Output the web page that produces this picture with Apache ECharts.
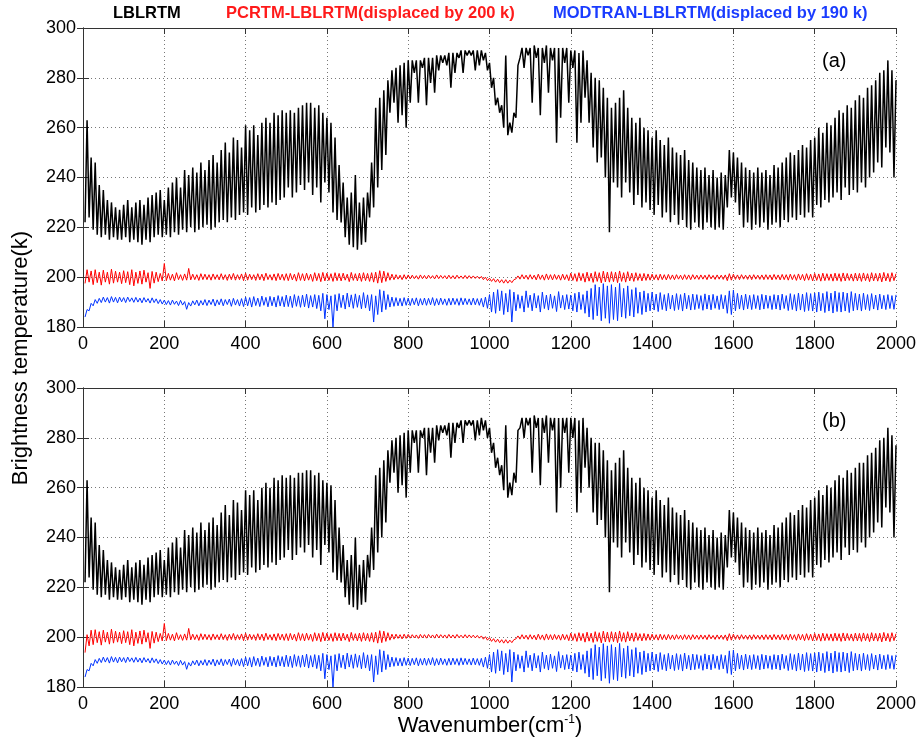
<!DOCTYPE html>
<html><head><meta charset="utf-8">
<script src="https://cdn.jsdelivr.net/npm/echarts@6/dist/echarts.min.js"></script>
<style>html,body{margin:0;padding:0;background:#fff}#c{width:921px;height:750px}</style>
</head><body><div id="c"></div>
<script>
// wavenumber sampling of the arrays below: first value at 10 cm-1, one value every 10 cm-1
const wnStart = 10, wnStep = 10;
const xTicks = [0,200,400,600,800,1000,1200,1400,1600,1800,2000];
const yTicks = [180,200,220,240,260,280,300];

// LBLRTM brightness temperature, panel (a): upper envelope / spike bottoms
const lblHiA = [263,248,246,237,235,231,230,228,227,229,
231,228,230,231,229,232,233,234,235,231,
236,238,240,236,243,241,244,242,246,243,
247,249,246,251,254,250,256,255,252,261,
259,261,257,262,264,262,266,265,267,266,
267,266,268,269,270,270,268,269,266,264,
262,256,245,238,232,234,241,230,232,234,
246,268,272,275,279,283,284,285,286,287,
287,287,287,288,288,288,289,289,289,290,
290,290,291,291,291,291,291,291,290,286,
280,272,269,289,262,266,285,292,292,292,
293,292,292,293,292,292,292,292,292,291,
291,290,291,287,282,280,279,276,272,268,
270,272,275,268,264,262,264,260,259,256,
259,255,253,256,252,250,249,251,247,246,
244,243,244,241,243,240,242,241,251,250,
248,246,244,243,242,244,242,243,241,245,
244,246,248,250,249,251,253,252,255,256,
260,258,262,261,264,267,266,269,268,271,
273,272,276,277,279,282,283,287,283,279];
const lblLoA = [222,224,219,217,216,217,215,216,215,215,
216,214,215,214,213,215,214,216,217,216,
217,216,218,217,219,218,220,218,219,220,
221,219,220,222,223,222,224,223,225,226,
225,228,226,227,229,228,230,229,231,232,
236,232,234,237,235,238,233,236,230,238,
234,226,223,222,216,213,212,211,213,214,
224,228,236,243,249,266,270,262,265,260,
270,282,270,284,269,278,274,283,286,285,
276,282,288,282,289,289,283,285,287,283,
276,269,266,260,257,258,264,288,284,289,
270,288,265,286,274,287,254,264,286,270,
284,254,262,272,262,252,246,248,240,218,
238,236,232,238,234,229,233,228,230,227,
225,229,224,226,222,225,221,223,220,219,
222,220,219,222,220,219,220,219,228,232,
230,225,220,222,219,221,220,222,219,221,
222,220,223,222,224,223,225,224,226,224,
229,228,231,230,232,234,231,236,233,235,
234,238,236,240,242,246,244,252,250,240];

// LBLRTM brightness temperature, panel (b)
const lblHiB = [263,248,246,237,235,231,230,228,227,229,
231,228,230,231,229,232,233,234,235,231,
236,238,240,236,243,241,244,242,246,243,
246,248,245,250,253,249,255,254,251,259,
257,259,255,260,262,260,264,263,265,264,
265,264,266,266,267,267,265,266,263,262,
261,255,244,237,231,233,240,229,231,233,
244,265,268,271,275,279,280,281,282,283,
283,283,283,284,284,284,285,285,285,286,
286,286,287,287,287,287,287,288,287,284,
278,272,269,285,262,266,283,288,288,288,
289,288,288,289,288,288,288,288,288,288,
288,287,288,284,280,278,278,275,271,267,
270,272,275,268,264,262,264,260,259,256,
259,255,253,256,252,250,249,251,247,246,
244,243,244,241,243,240,242,241,251,250,
248,246,244,243,242,244,242,243,241,245,
244,246,248,250,249,251,253,252,255,256,
259,257,261,260,263,265,264,267,266,268,
270,270,273,274,276,279,280,284,281,277];
const lblLoB = [222,224,219,217,216,217,215,216,215,215,
216,214,215,214,213,215,214,216,217,216,
217,216,218,217,219,218,220,218,219,220,
221,219,220,222,223,222,224,223,225,226,
225,228,226,227,229,228,230,229,231,232,
235,231,233,236,234,237,232,235,229,237,
234,226,223,222,216,213,212,211,213,214,
224,227,234,240,246,262,266,258,261,256,
266,278,266,280,265,274,270,279,282,281,
272,278,284,278,285,285,279,281,283,280,
274,268,265,259,256,257,262,284,280,285,
266,284,261,282,270,283,250,260,282,266,
280,250,258,268,260,250,245,247,240,218,
238,236,232,238,234,229,233,228,230,227,
225,229,224,226,222,225,221,223,220,219,
222,220,219,222,220,219,220,219,228,232,
230,225,220,222,219,221,220,222,219,221,
222,220,223,222,224,223,225,224,226,224,
229,228,231,230,232,234,231,236,233,235,
234,238,236,240,242,246,244,252,250,240];

// PCRTM-LBLRTM displaced by 200 K, panel (a)
const pcHiA = [203,202.5,203,202,202.8,202,203.2,202.4,202,202.6,
202.2,203,202,202.5,202.8,201.8,202.3,202,201.5,205.5,
201.5,201.2,201.8,201,201.3,203.5,201.2,201,201.4,201.2,
201,201.3,201,201.4,201,201.2,201.5,201,201.3,201.6,
201.2,201,201.4,201.2,201.6,201,201.3,201.5,201.2,201.4,
201.5,201.2,201.8,201.4,201.6,201.2,201.8,201.5,201.9,201.6,
201.4,201.8,201.5,201.6,201.2,201.9,201.4,201.6,201.8,201.5,
201.8,202,202.6,202.4,201.8,201.2,201,200.8,201,200.9,
200.8,200.6,200.9,200.7,200.8,200.6,200.9,200.7,200.6,200.8,
200.6,200.8,200.5,200.7,200.6,200.5,200.4,200.3,200,199.6,
199.4,199.2,199,199,198.8,199,200.5,201,200.8,201,
200.8,201.2,200.9,201.3,201,201.1,200.9,201.2,201,201.6,
201.4,201.8,201.5,202,201.6,202.2,201.8,202.4,202,202.2,
202,202.5,201.8,202.2,201.6,201.8,201.4,201.5,201.3,201.2,
201,201.2,201,201.1,200.9,201,200.8,201,200.9,201,
200.8,200.9,200.8,201,200.7,200.9,200.8,200.9,201.4,201.2,
200.9,201,200.8,200.9,201,200.8,200.9,201,200.9,201.1,
200.9,201.1,201,201.2,201,201.3,201.1,201.4,201.2,201.5,
201.3,201.6,201.4,201.3,201.6,201.4,201.7,201.5,201.3,201.6,
201.5,201.7,201.4,201.8,201.5,201.6,201.9,201.5,201.8,201.4];
const pcLoA = [197.5,198,197,197.8,196.8,198,197.2,197.6,198,197.4,
197.8,197,196.5,197.5,197.2,198,195.5,197.6,198.2,198.5,
198.6,198.8,198.5,199,198.7,198.8,198.9,199,198.7,199,
199,198.8,199.1,198.9,199,198.7,199,198.8,199,198.6,
198.8,199,198.7,198.9,198.6,199,198.8,198.6,198.9,198.7,
198.6,198.9,198.4,198.7,198.5,198.8,198.3,198.6,198.2,198.5,
198.7,198.3,198.6,198.5,198.8,198.2,198.7,198.5,198.3,198.6,
198.3,198,197.6,197.8,198.3,198.8,199,199.2,199,199.2,
199.3,199.4,199.2,199.4,199.3,199.5,199.3,199.4,199.5,199.3,
199.4,199.3,199.5,199.4,199.4,199.5,199.5,199.4,199,198.6,
198.3,198,197.8,197.6,197.6,197.8,199.3,199.2,199.3,199.1,
199.2,198.9,199.1,198.8,199,198.9,199.1,198.8,199,198.6,
198.7,198.3,198.6,198,198.4,197.9,198.3,197.7,198.1,198,
198.2,197.8,198.3,198,198.5,198.3,198.7,198.5,198.7,198.8,
199,198.8,199,198.9,199.1,199,199.2,199,199.1,199,
199.2,199.1,199.2,199,199.3,199.1,199.2,199.1,198.6,198.8,
199.1,199,199.2,199.1,199,199.2,199.1,199,199.1,198.9,
199.1,198.9,199,198.8,199,198.7,198.9,198.6,198.8,198.5,
198.7,198.4,198.6,198.7,198.4,198.6,198.3,198.5,198.7,198.4,
198.5,198.3,198.6,198.2,198.5,198.4,198.1,198.5,198.2,198.6];

// PCRTM-LBLRTM displaced by 200 K, panel (b)
const pcHiB = [201,202.8,203,202.2,202.8,202,203.2,202.4,202,202.6,
202.2,203,202,202.5,202.8,201.8,202.3,202,201.5,205.5,
201.5,201.2,201.8,201,201.3,203.5,201.2,201,201.4,201.2,
201,201.3,201,201.4,201,201.2,201.5,201,201.3,201.6,
201.2,201,201.4,201.2,201.6,201,201.3,201.5,201.2,201.4,
201.5,201.2,201.8,201.4,201.6,201.2,201.8,201.5,201.9,201.6,
201.4,201.8,201.5,201.6,201.2,201.9,201.4,201.6,201.8,201.5,
201.8,202,202.6,202.4,201.8,201.2,201.2,201,201.2,201.1,
201,200.9,201.1,201,201.1,200.9,201.2,201,200.9,201.1,
200.9,201.1,200.8,201,200.9,200.8,200.7,200.5,200.2,199.8,
199.4,199.2,199,199,198.8,199,200.5,201,200.8,201,
200.8,201.2,200.9,201.3,201,201.1,200.9,201.2,201,201.6,
201.4,201.8,201.5,202,201.6,202.2,201.8,202.4,202,202.2,
202,202.5,201.8,202.2,201.6,201.8,201.4,201.5,201.3,201.2,
201,201.2,201,201.1,200.9,201,200.8,201,200.9,201,
200.8,200.9,200.8,201,200.7,200.9,200.8,200.9,201.4,201.2,
200.9,201,200.8,200.9,201,200.8,200.9,201,200.9,201.1,
200.9,201.1,201,201.2,201,201.3,201.1,201.4,201.2,201.5,
201.3,201.6,201.4,201.3,201.6,201.4,201.7,201.5,201.3,201.6,
201.5,201.7,201.4,201.8,201.5,201.6,201.9,201.5,201.8,201.4];
const pcLoB = [193.8,196.5,197,197.8,196.8,198,197.2,197.6,198,197.4,
197.8,197,196.5,197.5,197.2,198,195.5,197.6,198.2,198.5,
198.6,198.8,198.5,199,198.7,198.8,198.9,199,198.7,199,
199,198.8,199.1,198.9,199,198.7,199,198.8,199,198.6,
198.8,199,198.7,198.9,198.6,199,198.8,198.6,198.9,198.7,
198.6,198.9,198.4,198.7,198.5,198.8,198.3,198.6,198.2,198.5,
198.7,198.3,198.6,198.5,198.8,198.2,198.7,198.5,198.3,198.6,
198.3,198,197.6,197.8,198.3,198.8,199.2,199.5,199.3,199.5,
199.6,199.7,199.5,199.7,199.6,199.8,199.6,199.7,199.8,199.6,
199.7,199.6,199.8,199.7,199.7,199.8,199.7,199.6,199.2,198.8,
198.3,198,197.8,197.6,197.6,197.8,199.3,199.2,199.3,199.1,
199.2,198.9,199.1,198.8,199,198.9,199.1,198.8,199,198.6,
198.7,198.3,198.6,198,198.4,197.9,198.3,197.7,198.1,198,
198.2,197.8,198.3,198,198.5,198.3,198.7,198.5,198.7,198.8,
199,198.8,199,198.9,199.1,199,199.2,199,199.1,199,
199.2,199.1,199.2,199,199.3,199.1,199.2,199.1,198.6,198.8,
199.1,199,199.2,199.1,199,199.2,199.1,199,199.1,198.9,
199.1,198.9,199,198.8,199,198.7,198.9,198.6,198.8,198.5,
198.7,198.4,198.6,198.7,198.4,198.6,198.3,198.5,198.7,198.4,
198.5,198.3,198.6,198.2,198.5,198.4,198.1,198.5,198.2,198.6];

// MODTRAN-LBLRTM displaced by 190 K (both panels)
const moHi = [187,189.5,191,191.5,192,191.8,192.2,191.9,192,191.8,
192,191.7,191.9,191.6,191.8,191.4,191.7,191.3,191,190.8,
190.6,190.8,190.4,190.7,190.2,189.8,190.5,190.8,190.6,191,
190.8,191.2,190.9,191.3,191,191.2,191.5,191,191.4,192,
191.8,192.2,191.6,192.4,191.9,192.3,192,192.6,192.2,192.8,
192.4,193,192.5,192.8,193.2,192.6,193,192.7,193.5,193,
192.5,193,193.4,192.8,193.6,192.9,193.3,192.7,193.8,192.9,
193,192.5,195,194.5,193,192,191.8,191.5,191.8,191.6,
191.5,191.7,191.4,191.6,191.5,191.8,191.4,191.6,191.3,191.5,
191.6,191.4,191.7,191.5,191.3,191.6,191.4,191.5,192,193,
194,195,194.5,193.5,195,194,193,192.5,194.5,192.8,
193.5,192.6,194,192.8,193.2,192.5,194.2,192.7,193,192.8,
193.5,194,193,194.5,195.5,197,196,197.4,196.5,197,
196,197.5,195.5,196.5,195,195.8,194,194.5,193.5,194,
193.2,193.8,193,193.5,192.8,193.4,193,193.6,192.7,193.2,
193,192.6,193.3,192.8,193.1,192.5,193,192.7,194.5,194.8,
193.5,192.8,193.2,192.7,193,192.6,193.1,192.8,192.5,193,
192.8,193.2,192.6,193.4,193,193.6,193.2,193.8,193.4,193.6,
194,193.5,194.2,193.6,194.4,193.8,194,193.6,194.2,193.5,
193.2,193.6,193,193.4,192.8,193.2,192.7,193,192.6,192.9];
const moLo = [184,186.5,188.5,189.5,189.8,190,189.6,190,189.7,190.1,
189.8,190.2,189.9,190,189.7,190,189.6,189.8,189.4,189.2,
189,188.8,189.1,188.6,188.8,187.1,188.4,188.9,188.5,188.8,
188.6,189,188.4,188.9,188.5,189,188.3,188.8,188.4,188.2,
188.5,188,188.6,188.2,188.7,188.1,188.5,188,188.4,188.1,
188.2,187.8,188.3,187.9,188.1,187.6,188,187.4,186.5,183.3,
187,180,186.5,187.8,187.2,188,187.5,187.9,187.3,187.6,
186.5,182,185,186,187,188,188.3,188.5,188.4,188.7,
188.6,188.9,188.5,188.8,188.7,188.9,188.6,188.8,189,188.7,
188.8,189,188.7,188.9,189,188.8,188.9,188.7,188,187.5,
186,185.5,186.5,185,186,182,186.5,187.5,186,187.8,
186.5,187.6,186,187.4,186.8,187.5,186.2,187.6,187,187.2,
186.5,186,187,185.5,184,183,184.5,182.5,183.5,181.5,
183,182.5,184,183.5,184.5,184,185.5,185,186,186.5,
186.8,186.2,187,186.5,187.2,186.6,187,186.4,187.3,186.8,
187,187.4,186.7,187.2,186.9,187.5,187,187.3,185.5,185,
186.5,187.2,186.8,187.3,187,187.4,186.9,187.2,187.5,187,
187.2,186.8,187.4,186.6,187,186.4,186.8,186.2,186.6,186.4,
186,186.5,185.8,186.4,185.6,186.2,186,186.4,185.8,186.5,
186.8,186.4,187,186.6,187.2,186.8,187.3,187,187.4,187.1];

// build a dense trace: each sample's envelope top at its wavenumber, its bottom half a step before
function trace(hi, lo) {
  const out = [];
  for (let i = 0; i < hi.length; i++) {
    const w = wnStart + i * wnStep;
    out.push([w - wnStep / 2, lo[i]]);
    out.push([w, hi[i]]);
  }
  return out;
}

const FONT = '"Liberation Sans",Arial,sans-serif';
const chart = echarts.init(document.getElementById('c'), null, {renderer: 'canvas'});
const plain = v => String(v);

function axesFor(gi) {
  const xs = [{
    type: 'value', gridIndex: gi, min: xTicks[0], max: xTicks[xTicks.length-1], interval: 200,
    axisLine: {show: true, lineStyle: {color: '#333', width: 1}},
    axisTick: {show: true, inside: true, length: 6, lineStyle: {color: '#333'}},
    axisLabel: {color: '#000', fontSize: 18, fontFamily: FONT, margin: 8, formatter: plain},
    splitLine: {show: true, lineStyle: {color: '#777', type: [1, 3], width: 1}}
  }, {
    type: 'value', gridIndex: gi, position: 'top', min: xTicks[0], max: xTicks[xTicks.length-1], interval: 200,
    axisLine: {show: true, lineStyle: {color: '#333', width: 1}},
    axisTick: {show: true, inside: true, length: 6, lineStyle: {color: '#333'}},
    axisLabel: {show: false}, splitLine: {show: false}
  }];
  const ys = [{
    type: 'value', gridIndex: gi, min: yTicks[0], max: yTicks[yTicks.length-1], interval: 20,
    axisLine: {show: true, lineStyle: {color: '#333', width: 1}},
    axisTick: {show: true, inside: true, length: 6, lineStyle: {color: '#333'}},
    axisLabel: {color: '#000', fontSize: 18, fontFamily: FONT, margin: 7, formatter: plain},
    splitLine: {show: true, lineStyle: {color: '#777', type: [1, 3], width: 1}}
  }, {
    type: 'value', gridIndex: gi, position: 'right', min: yTicks[0], max: yTicks[yTicks.length-1], interval: 20,
    axisLine: {show: true, lineStyle: {color: '#333', width: 1}},
    axisTick: {show: true, inside: true, length: 6, lineStyle: {color: '#333'}},
    axisLabel: {show: false}, splitLine: {show: false}
  }];
  return {xs, ys};
}
const a0 = axesFor(0), a1 = axesFor(1);

function line(gi, data, color, width, z) {
  return {
    type: 'line', xAxisIndex: gi * 2, yAxisIndex: gi * 2, data: data,
    showSymbol: false, symbol: 'none', animation: false, z: z,
    lineStyle: {color: color, width: width}, clip: true
  };
}

chart.setOption({
  backgroundColor: '#fff',
  animation: false,
  grid: [
    {left: 83, top: 28, width: 813, height: 299, show: false},
    {left: 83, top: 388, width: 813, height: 299, show: false}
  ],
  xAxis: a0.xs.concat(a1.xs),
  yAxis: a0.ys.concat(a1.ys),
  series: [
    line(0, trace(lblHiA, lblLoA), '#000000', 1.5, 3),
    line(0, trace(pcHiA, pcLoA), '#ff0000', 1, 4),
    line(0, trace(moHi, moLo), '#0033ff', 1, 4),
    line(1, trace(lblHiB, lblLoB), '#000000', 1.5, 3),
    line(1, trace(pcHiB, pcLoB), '#ff0000', 1, 4),
    line(1, trace(moHi, moLo), '#0033ff', 1, 4)
  ],
  graphic: [
    {type: 'text', left: 113, top: 5, style: {text: 'LBLRTM', fill: '#000', font: 'bold 16.5px ' + FONT}},
    {type: 'text', left: 226, top: 5, style: {text: 'PCRTM-LBLRTM(displaced by 200 k)', fill: '#ff1a1a', font: 'bold 16.5px ' + FONT}},
    {type: 'text', left: 553, top: 5, style: {text: 'MODTRAN-LBLRTM(displaced by 190 k)', fill: '#1a3cff', font: 'bold 16.5px ' + FONT}},
    {type: 'text', left: 822, top: 51, style: {text: '(a)', fill: '#000', font: '20px ' + FONT}},
    {type: 'text', left: 822, top: 411, style: {text: '(b)', fill: '#000', font: '20px ' + FONT}},
    {type: 'text', x: 21, y: 358, rotation: Math.PI / 2,
      style: {text: 'Brightness temperature(k)', fill: '#000', font: '22px ' + FONT, align: 'center', verticalAlign: 'middle'}},
    {type: 'text', x: 490, y: 726,
      style: {text: 'Wavenumber(cm{s|-1})', fill: '#000', font: '22px ' + FONT, align: 'center', verticalAlign: 'middle',
        rich: {s: {fontSize: 12, fontFamily: FONT, verticalAlign: 'top', lineHeight: 24}}}}
  ]
});
</script></body></html>
